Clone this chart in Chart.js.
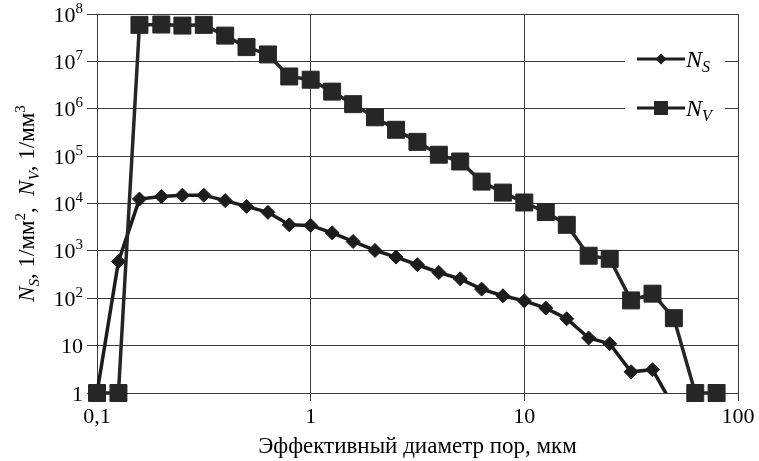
<!DOCTYPE html>
<html>
<head>
<meta charset="utf-8">
<script src="https://cdn.jsdelivr.net/npm/chart.js@4/dist/chart.umd.min.js"></script>
<style>
  html, body { margin: 0; padding: 0; background: #fff; }
  #wrap { width: 759px; height: 461px; }
</style>
</head>
<body>
<div id="wrap"><canvas id="myChart" width="759" height="461"></canvas></div>
<script>
// effective pore diameter, um
var diam = [0.1, 0.126, 0.158, 0.2, 0.251, 0.316, 0.398, 0.501, 0.631, 0.794,
  1, 1.26, 1.58, 2, 2.51, 3.16, 3.98, 5.01, 6.31, 7.94,
  10, 12.6, 15.8, 20, 25.1, 31.6, 39.8, 50.1, 63.1, 79.4];
// N_S, 1/mm2
var nS = [1, 600, 12400, 14000, 15000, 15000, 11500, 8700, 6500, 3550,
  3450, 2400, 1580, 1020, 740, 510, 350, 257, 156, 113,
  88, 62, 37, 14.5, 11, 2.8, 3.1, 0.5, null, null];
// N_V, 1/mm3
var nV = [1, 1, 5.9e7, 6.0e7, 5.7e7, 5.9e7, 3.5e7, 2.0e7, 1.4e7, 4.8e6,
  4.1e6, 2.3e6, 1.25e6, 6.6e5, 3.6e5, 2.0e5, 1.07e5, 7.7e4, 2.9e4, 1.7e4,
  1.05e4, 6.6e3, 3.55e3, 790, 680, 90, 125, 38, 1, 1];

var xTicks = [0.1, 1, 10, 100];
var xTickLabels = ['0,1', '1', '10', '100'];
var yTicks = [1, 10, 1e2, 1e3, 1e4, 1e5, 1e6, 1e7, 1e8];
// base and exponent of each y tick label
var yTickBase = ['1', '10', '10', '10', '10', '10', '10', '10', '10'];
var yTickExp = ['', '', '2', '3', '4', '5', '6', '7', '8'];

var serif = "'Liberation Serif', 'Times New Roman', serif";
var ink = '#1c1c1c';
var sqInk = '#262626';

function pts(ys) {
  return diam.map(function (d, i) { return { x: d, y: ys[i] }; });
}

// rich text helper: runs of {t, size, italic, dy}
function runWidth(ctx, runs) {
  var w = 0;
  runs.forEach(function (r) {
    ctx.font = (r.italic ? 'italic ' : '') + r.size + 'px ' + serif;
    w += ctx.measureText(r.t).width;
  });
  return w;
}
function drawRuns(ctx, runs, x, y) {
  runs.forEach(function (r) {
    ctx.font = (r.italic ? 'italic ' : '') + r.size + 'px ' + serif;
    ctx.fillText(r.t, x, y + (r.dy || 0));
    x += ctx.measureText(r.t).width;
  });
}

var yTitleRuns = [
  { t: 'N', size: 23, italic: true },
  { t: 'S', size: 15, italic: true, dy: 5 },
  { t: ', 1/мм', size: 23 },
  { t: '2', size: 15, dy: -9 },
  { t: ',  ', size: 23 },
  { t: 'N', size: 23, italic: true },
  { t: 'V', size: 15, italic: true, dy: 5 },
  { t: ', 1/мм', size: 23 },
  { t: '3', size: 15, dy: -9 }
];

var extras = {
  id: 'extras',
  afterDraw: function (chart) {
    var ctx = chart.ctx;
    var area = chart.chartArea;
    var yScale = chart.scales.y;
    ctx.save();
    ctx.fillStyle = '#000';
    ctx.textBaseline = 'alphabetic';
    ctx.textAlign = 'left';

    // y tick labels with superscript exponents, placed by the y scale
    yTicks.forEach(function (v, i) {
      var py = yScale.getPixelForValue(v);
      var runs = [{ t: yTickBase[i], size: 22 }];
      if (yTickExp[i]) runs.push({ t: yTickExp[i], size: 15, dy: -9 });
      var w = runWidth(ctx, runs);
      drawRuns(ctx, runs, 83 - w, py + 7.5);
    });

    // y axis title, rotated
    var w = runWidth(ctx, yTitleRuns);
    ctx.translate(34, (area.top + area.bottom) / 2);
    ctx.rotate(-Math.PI / 2);
    drawRuns(ctx, yTitleRuns, -w / 2, 0);
    ctx.setTransform(1, 0, 0, 1, 0, 0);
    ctx.restore();

    // legend box inside plot
    ctx.save();
    ctx.fillStyle = '#fff';
    ctx.fillRect(625, 36, 100, 96);
    var entries = [
      { y: 59, shape: 'diamond', sub: 'S' },
      { y: 108, shape: 'square', sub: 'V' }
    ];
    entries.forEach(function (e) {
      ctx.strokeStyle = ink;
      ctx.lineWidth = 3;
      ctx.beginPath();
      ctx.moveTo(637, e.y);
      ctx.lineTo(685, e.y);
      ctx.stroke();
      ctx.fillStyle = e.shape === 'diamond' ? ink : sqInk;
      ctx.beginPath();
      if (e.shape === 'diamond') {
        ctx.moveTo(661, e.y - 5.5);
        ctx.lineTo(666.5, e.y);
        ctx.lineTo(661, e.y + 5.5);
        ctx.lineTo(655.5, e.y);
        ctx.closePath();
      } else {
        ctx.rect(654, e.y - 7, 14, 14);
      }
      ctx.fill();
      ctx.fillStyle = '#000';
      drawRuns(ctx, [
        { t: 'N', size: 24, italic: true },
        { t: e.sub, size: 16, italic: true, dy: 5 }
      ], 686, e.y + 8);
    });
    ctx.restore();
  }
};

var data = {
  datasets: [{
    label: 'NS',
    data: pts(nS),
    borderColor: ink,
    backgroundColor: ink,
    borderWidth: 3.5,
    pointStyle: 'rectRot',
    pointRadius: 7,
    pointHoverRadius: 7,
    pointBorderWidth: 1,
    order: 1,
    clip: { left: 20, top: 20, right: 20, bottom: 0 }
  }, {
    label: 'NV',
    data: pts(nV),
    borderColor: sqInk,
    backgroundColor: sqInk,
    borderWidth: 3.5,
    pointStyle: 'rect',
    pointRadius: 12,
    pointHoverRadius: 12,
    pointBorderWidth: 1,
    order: 0,
    clip: false
  }]
};

var config = {
  type: 'line',
  data: data,
  options: {
    responsive: false,
    animation: false,
    layout: { padding: { left: 0, top: 14, right: 21, bottom: 0 } },
    plugins: {
      legend: { display: false },
      tooltip: { enabled: false }
    },
    scales: {
      x: {
        type: 'logarithmic',
        min: 0.1,
        max: 100,
        afterBuildTicks: function (scale) {
          scale.ticks = xTicks.map(function (v) { return { value: v }; });
        },
        afterFit: function (scale) { scale.height = 68; },
        grid: { color: '#3a3a3a', lineWidth: 1, tickLength: 8 },
        border: { display: true, color: '#3a3a3a', width: 1 },
        ticks: {
          autoSkip: false,
          maxRotation: 0,
          padding: 3,
          color: '#000',
          font: { family: serif, size: 22 },
          callback: function (v) {
            var i = xTicks.indexOf(v);
            return i >= 0 ? xTickLabels[i] : '';
          }
        },
        title: {
          display: true,
          text: 'Эффективный диаметр пор, мкм',
          color: '#000',
          font: { family: serif, size: 23 },
          padding: { top: 0, bottom: 0 }
        }
      },
      y: {
        type: 'logarithmic',
        min: 1,
        max: 1e8,
        afterBuildTicks: function (scale) {
          scale.ticks = yTicks.map(function (v) { return { value: v }; });
        },
        afterFit: function (scale) { scale.width = 97; },
        grid: { color: '#3a3a3a', lineWidth: 1, tickLength: 10 },
        border: { display: true, color: '#3a3a3a', width: 1 },
        ticks: { display: false }
      }
    }
  },
  plugins: [extras]
};

var myChart = new Chart(document.getElementById('myChart'), config);
</script>
</body>
</html>
